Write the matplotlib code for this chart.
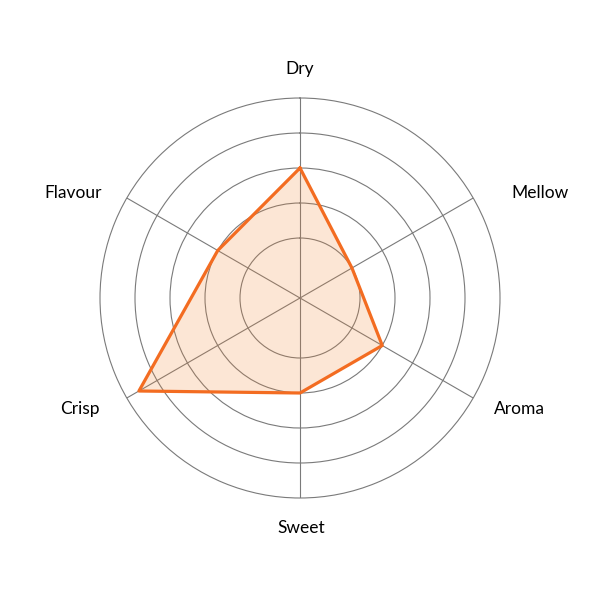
import numpy as np
import matplotlib
matplotlib.use("Agg")
import matplotlib.pyplot as plt

categories = ["Dry", "Mellow", "Aroma", "Sweet", "Crisp", "Flavour"]
values = [3, 1, 2, 2, 4.6, 2]
ring_values = [1, 2, 3, 4, 5]

plt.rcParams['font.family'] = ['Lato', 'DejaVu Sans']

fig = plt.figure(figsize=(6, 6), dpi=100)
ax = fig.add_axes([100/600, 102/600, 400/600, 400/600], projection='polar')
ax.set_theta_zero_location('N')
ax.set_theta_direction(-1)

n = len(categories)
angles = np.linspace(0, 2*np.pi, n, endpoint=False)
ax.set_ylim(-0.714, 5)

grid_color = '#7a7a7a'
ax.set_rgrids(ring_values[:-1], labels=[])
ax.set_thetagrids(np.degrees(angles), labels=[])
ax.grid(True, color=grid_color, linewidth=0.8)
ax.spines['polar'].set_color(grid_color)
ax.spines['polar'].set_linewidth(0.8)
ax.tick_params(length=0)

a = np.concatenate([angles, angles[:1]])
v = np.concatenate([values, values[:1]])
ax.fill(a, v, color='#f0822f', alpha=0.2, linewidth=0, zorder=3)
ax.plot(a, v, color='#f36c21', linewidth=2.3, zorder=4)

# labels (pixel positions)
lab_pos = {
    "Dry": (300, 69, 'center'),
    "Mellow": (511, 193, 'left'),
    "Aroma": (494, 409, 'left'),
    "Sweet": (301, 528, 'center'),
    "Crisp": (100, 409, 'right'),
    "Flavour": (102, 193, 'right'),
}
for c in categories:
    x, y, ha = lab_pos[c]
    fig.text(x/600, 1 - y/600, c, ha=ha, va='center', fontsize=12.5, color='#000000')

fig.savefig('out.png', dpi=100)
